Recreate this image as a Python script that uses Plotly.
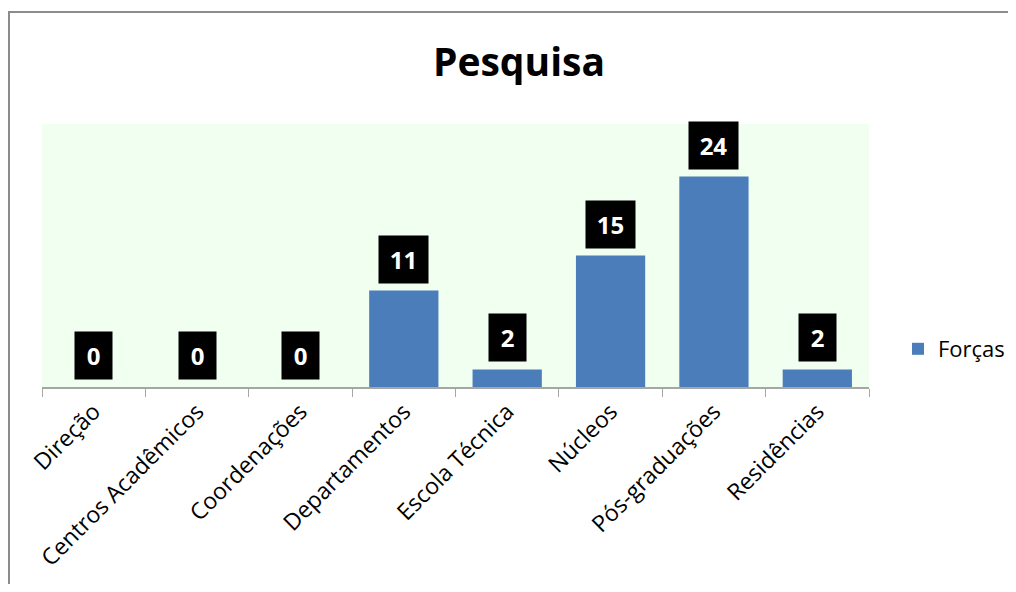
import plotly.graph_objects as go

categories = ["Direção", "Centros Acadêmicos", "Coordenações", "Departamentos",
              "Escola Técnica", "Núcleos", "Pós-graduações", "Residências"]
forcas = [0, 0, 0, 11, 2, 15, 24, 2]
series_name = "Forças"
title_text = "Pesquisa"

# figure is drawn offset by the page's 8px body margin
W, H = 1000, 576
L, R, T, B = 34, 861, 116, 379

fig = go.Figure()
fig.add_trace(go.Bar(
    x=categories, y=forcas, name=series_name,
    marker=dict(color="#4A7DBA", line=dict(width=0)),
    showlegend=True,
))

for c, v in zip(categories, forcas):
    fig.add_annotation(
        x=c, y=v, xref="x", yref="y", text=f"<b>{v}</b>", showarrow=False,
        yanchor="bottom", yshift=7, bgcolor="black",
        font=dict(color="white", size=24, family="Open Sans"),
        width=29 if len(str(v)) == 1 else 41, height=39, borderpad=4,
    )

pw = R - L
ph = B - T
fig.add_shape(type="rect", xref="paper", yref="paper",
              x0=(1 - L) / pw, x1=(W + 20 - L) / pw,
              y0=(B - (H + 20)) / ph, y1=(B - 4) / ph,
              line=dict(color="#8C8C8C", width=2), fillcolor="rgba(0,0,0,0)", layer="below")

fig.update_layout(
    width=W, height=H,
    margin=dict(l=L, r=W - R, t=T, b=H - B, autoexpand=False),
    paper_bgcolor="white", plot_bgcolor="#F0FFF0",
    title=dict(text=f"<b>{title_text}</b>", x=0.511, xanchor="center", y=0.905, yanchor="middle",
               font=dict(size=39, color="black", family="Open Sans")),
    bargap=0.33,
    xaxis=dict(showline=True, linecolor="#A6A6A6", linewidth=2, ticks="outside",
               tickson="boundaries", ticklen=8, tickcolor="#A6A6A6", tickwidth=1,
               tickangle=-45, tickfont=dict(size=23, color="black", family="Open Sans"),
               showgrid=False, fixedrange=True, automargin=False),
    yaxis=dict(range=[0, 30], visible=False, showgrid=False),
    legend=dict(x=(890 - L) / pw, y=(B - 341) / ph, xanchor="left", yanchor="middle",
                font=dict(size=22, color="black", family="Open Sans"), bgcolor="rgba(0,0,0,0)",
                itemwidth=30),
    font=dict(family="Open Sans"),
)

fig.write_html("out.html")
